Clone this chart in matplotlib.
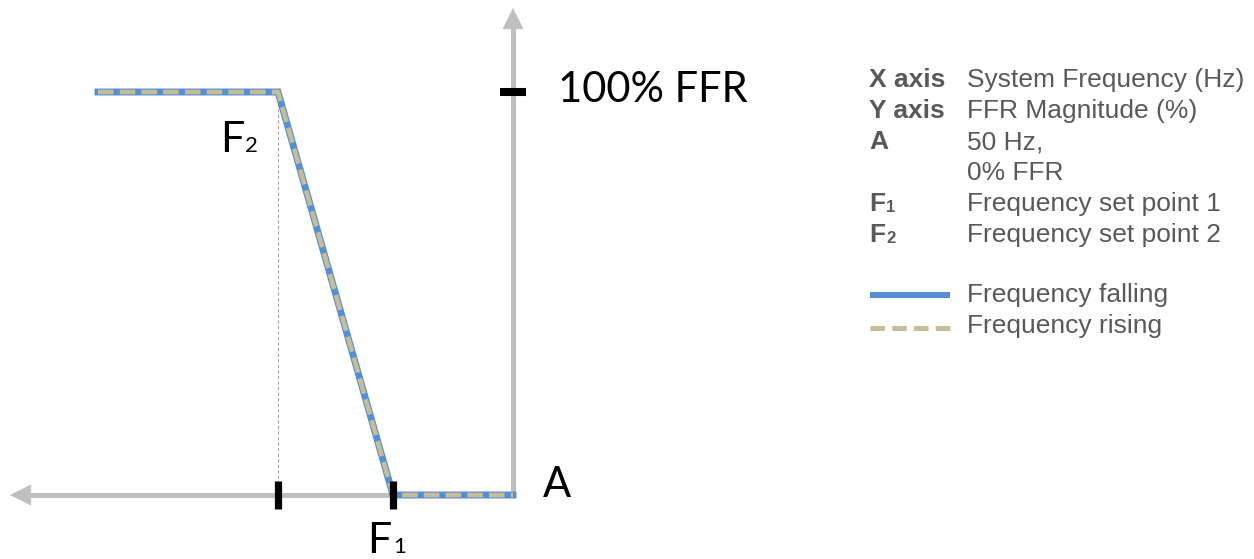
import matplotlib
matplotlib.use("Agg")
import matplotlib.pyplot as plt
from matplotlib.lines import Line2D

# ---- data (frequency in Hz, FFR magnitude in %) ----
freq_points = [49.585, 49.765, 49.88, 50.0]   # start, F2, F1, A
ffr_points = [100, 100, 0, 0]
F1 = 49.88
F2 = 49.765
A_freq = 50.0
full_ffr = 100

legend_rows = [("X axis", "System Frequency (Hz)"),
               ("Y axis", "FFR Magnitude (%)"),
               ("A", "50 Hz,"),
               ("", "0% FFR"),
               ("F|1", "Frequency set point 1"),
               ("F|2", "Frequency set point 2")]
series_labels = ["Frequency falling", "Frequency rising"]

W, H = 1254, 559
fig = plt.figure(figsize=(W / 100, H / 100), dpi=100)
ax = fig.add_axes([0, 0, 1, 1])
ax.set_xlim(49.487, 50.741)
ax.set_ylim(-15.88, 122.83)
ax.axis("off")

GRAY = "#BFBFBF"
BLUE = "#558ED5"
TAN = "#C4BD97"
TXT = "#595959"

def px(x, y):
    return (x / W, 1 - y / H)

# axes (gray L with arrow heads)
x_tip = 49.497
y_tip = 120.84
ax.plot([x_tip + 0.01, A_freq, A_freq], [0, 0, y_tip - 2.5], color=GRAY, lw=3.6,
        solid_joinstyle="miter", solid_capstyle="butt", zorder=1)
head = dict(arrowstyle="-|>,head_length=1.44,head_width=0.72", color=GRAY, lw=0.5,
            shrinkA=0, shrinkB=0, mutation_scale=10)
ax.annotate("", xy=(x_tip, 0), xytext=(x_tip + 0.03, 0), arrowprops=head, zorder=1)
ax.annotate("", xy=(A_freq, y_tip), xytext=(A_freq, y_tip - 8), arrowprops=head, zorder=1)

# guide line at F2
ax.plot([F2, F2], [full_ffr, 3.4], color="#A6A6A6", lw=0.8, dashes=(3, 2), zorder=2)

# curves
ax.plot(freq_points, ffr_points, color=BLUE, lw=5, solid_joinstyle="miter", zorder=3)
ax.plot(freq_points, ffr_points, color=TAN, lw=3.4, dashes=(3.3, 1.3), zorder=4)

# ticks
ax.plot([F2, F2], [-3.4, 3.4], color="black", lw=5.2, solid_capstyle="butt", zorder=5)
ax.plot([F1, F1], [-3.4, 3.4], color="black", lw=5.2, solid_capstyle="butt", zorder=5)
ax.plot([A_freq - 0.0125, A_freq + 0.0125], [full_ffr, full_ffr], color="black", lw=5.8,
        solid_capstyle="butt", zorder=5)

# chart labels
LF = ["Lato", "DejaVu Sans"]
fig.text(*px(558, 102), "100% FFR", family=LF, fontsize=30, color="black", va="baseline")
fig.text(*px(543, 497), "A", family=LF, fontsize=30, color="black", va="baseline")
fig.text(*px(220, 152), "F", family=LF, fontsize=31, color="black", va="baseline")
fig.text(*px(245, 152), "2", family=LF, fontsize=16, color="black", va="baseline")
fig.text(*px(367, 553), "F", family=LF, fontsize=31, color="black", va="baseline")
fig.text(*px(393, 553), "1", family=LF, fontsize=16, color="black", va="baseline")

# legend table
LS = ["Liberation Sans", "DejaVu Sans"]
baselines = [87, 118, 149, 180, 211, 242]
for (key, desc), yb in zip(legend_rows, baselines):
    if "|" in key:
        k, sub = key.split("|")
        fig.text(*px(869, yb), k, family=LS, fontsize=19, fontweight="bold", color=TXT, va="baseline")
        fig.text(*px(886, yb + 1), sub, family=LS, fontsize=12, fontweight="bold", color=TXT, va="baseline")
    elif key:
        fig.text(*px(869, yb), key, family=LS, fontsize=19, fontweight="bold", color=TXT, va="baseline")
    fig.text(*px(967, yb), desc, family=LS, fontsize=19, color=TXT, va="baseline")

fig.add_artist(Line2D([870 / W, 950 / W], [1 - 295 / H] * 2, color=BLUE, lw=4.3,
                      solid_capstyle="butt"))
fig.add_artist(Line2D([870 / W, 950 / W], [1 - 328 / H] * 2, color=TAN, lw=3.6,
                      dashes=(2.9, 1.45), dash_capstyle="butt"))
fig.text(*px(967, 302), series_labels[0], family=LS, fontsize=19, color=TXT, va="baseline")
fig.text(*px(967, 333), series_labels[1], family=LS, fontsize=19, color=TXT, va="baseline")

fig.savefig("out.png", dpi=100)
